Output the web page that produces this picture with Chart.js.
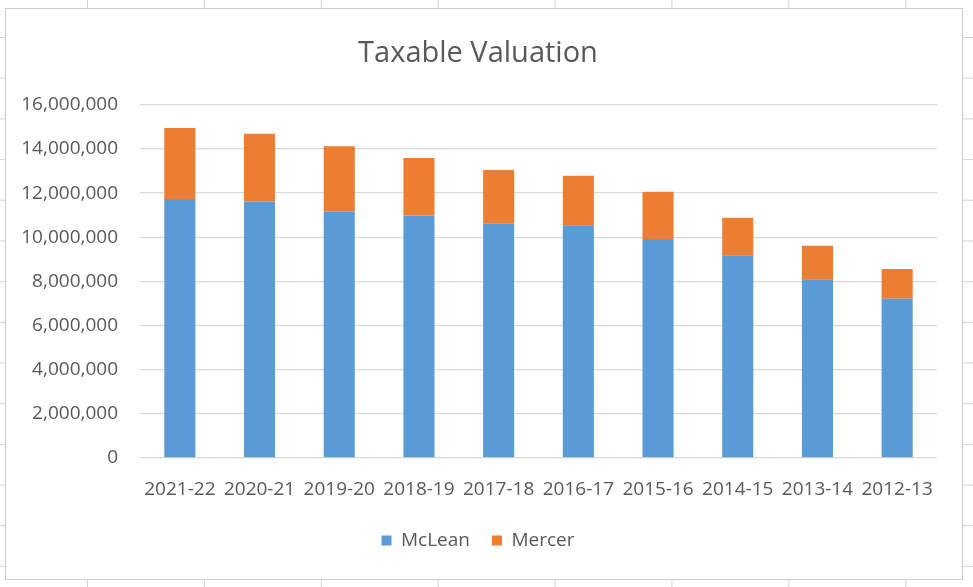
<!DOCTYPE html>
<html>
<head>
<meta charset="utf-8">
<script src="https://cdn.jsdelivr.net/npm/chart.js@4"></script>
<style>
  html, body { margin: 0; padding: 0; }
  body {
    width: 973px; height: 587px; overflow: hidden; position: relative;
    background-color: #ffffff;
    background-image:
      linear-gradient(to right, #d4d4d4 1px, transparent 1px),
      linear-gradient(to bottom, #d4d4d4 1px, transparent 1px);
    background-size: 116.9px 100%, 100% 40.7px;
    background-position: 87px 0, 0 37px;
  }
  #box {
    position: absolute; left: 5px; top: 8px;
    width: 956px; height: 570px;
    border: 1px solid #cccccc; background: #ffffff;
  }
  canvas { display: block; }
</style>
</head>
<body>
<div id="box"><canvas id="c" width="956" height="570"></canvas></div>
<script>
const categories = ['2021-22','2020-21','2019-20','2018-19','2017-18','2016-17','2015-16','2014-15','2013-14','2012-13'];
const mclean = [11730000, 11620000, 11170000, 10990000, 10610000, 10540000, 9920000, 9190000, 8100000, 7210000];
const mercer = [3220000, 3070000, 2950000, 2600000, 2440000, 2250000, 2140000, 1690000, 1510000, 1350000];
const yMin = 0, yMax = 16000000, yStep = 2000000;
const seriesNames = ['McLean', 'Mercer'];
const chartTitle = 'Taxable Valuation';

const FONT = "'Open Sans', 'Liberation Sans', sans-serif";
const TEXT = '#595959';

new Chart(document.getElementById('c'), {
  type: 'bar',
  data: {
    labels: categories,
    datasets: [
      { label: seriesNames[0], data: mclean, backgroundColor: '#5B9BD5', borderWidth: 0 },
      { label: seriesNames[1], data: mercer, backgroundColor: '#ED7D31', borderWidth: 0 }
    ]
  },
  options: {
    responsive: false,
    animation: false,
    layout: { padding: { left: 13, right: 25, top: 0, bottom: 19 } },
    datasets: { bar: { barPercentage: 0.39, categoryPercentage: 1.0 } },
    plugins: {
      title: {
        display: true, text: chartTitle, color: TEXT,
        font: { family: FONT, size: 29, weight: 'normal' },
        padding: { top: 27, bottom: 34 }
      },
      legend: {
        position: 'bottom',
        labels: {
          color: TEXT, boxWidth: 10, boxHeight: 10, padding: 22,
          font: { family: FONT, size: 19 }
        }
      },
      tooltip: { enabled: false }
    },
    scales: {
      x: {
        stacked: true,
        grid: { display: false, drawTicks: false },
        border: { display: false },
        ticks: { color: TEXT, font: { family: FONT, size: 19 }, padding: 20, maxRotation: 0, autoSkip: false },
        afterFit: (s) => { s.height = 51; }
      },
      y: {
        stacked: true, min: yMin, max: yMax,
        grid: { color: '#d9d9d9', lineWidth: 1.3, drawTicks: false },
        border: { display: false },
        ticks: {
          stepSize: yStep, color: TEXT, padding: 22,
          font: { family: FONT, size: 19 },
          callback: (v) => Number(v).toLocaleString('en-US')
        },
        afterFit: (s) => { s.width = 121; }
      }
    }
  }
});
</script>
</body>
</html>
